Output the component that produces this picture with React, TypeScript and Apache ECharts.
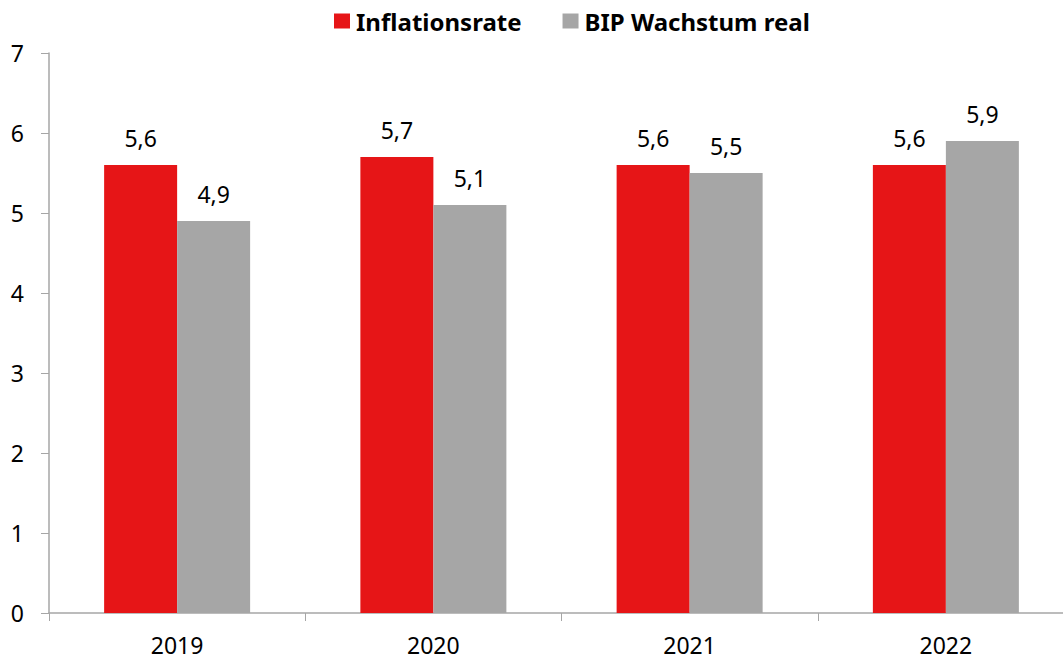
import React, { useEffect, useRef } from "react";
import * as echarts from "echarts";

const categories = ["2019", "2020", "2021", "2022"];
const inflation = [5.6, 5.7, 5.6, 5.6];
const gdp = [4.9, 5.1, 5.5, 5.9];
const seriesNames = ["Inflationsrate", "BIP Wachstum real"];

const FONT = "'Noto Sans', 'Open Sans', sans-serif";

export default function App() {
  const ref = useRef<HTMLDivElement>(null);
  useEffect(() => {
    if (!ref.current) return;
    const chart = echarts.init(ref.current, null, { renderer: "svg" });
    const label = {
      show: true,
      position: "top" as const,
      distance: 16,
      fontSize: 23,
      fontFamily: FONT,
      color: "#000",
      formatter: (p: any) => String(p.value).replace(".", ","),
    };
    chart.setOption({
      animation: false,
      backgroundColor: "#fff",
      legend: {
        top: 9,
        left: 334,
        padding: 0,
        icon: "rect",
        itemWidth: 16,
        itemHeight: 15,
        itemGap: 41,
        textStyle: {
          fontSize: 24,
          fontWeight: "bold",
          fontFamily: FONT,
          color: "#000",
          padding: [0, 0, 0, 1],
        },
        data: seriesNames,
      },
      grid: { left: 49, right: 0, top: 53, bottom: 48, containLabel: false },
      xAxis: {
        type: "category",
        data: categories,
        axisLine: { lineStyle: { color: "#A6A6A6", width: 1.5 } },
        axisTick: { show: true, length: 8, alignWithLabel: false, lineStyle: { color: "#A6A6A6" } },
        axisLabel: { fontSize: 23, fontFamily: FONT, color: "#000", margin: 20 },
      },
      yAxis: {
        type: "value",
        min: 0,
        max: 7,
        interval: 1,
        splitLine: { show: false },
        axisLine: { show: true, lineStyle: { color: "#A6A6A6", width: 1.5 } },
        axisTick: { show: true, length: 8, lineStyle: { color: "#A6A6A6" } },
        axisLabel: { fontSize: 23, fontFamily: FONT, color: "#000", margin: 25 },
      },
      series: [
        {
          name: seriesNames[0],
          type: "bar",
          data: inflation,
          barWidth: 73,
          barGap: "0%",
          itemStyle: { color: "#E61517" },
          label,
        },
        {
          name: seriesNames[1],
          type: "bar",
          data: gdp,
          barWidth: 73,
          barGap: "0%",
          itemStyle: { color: "#A6A6A6" },
          label,
        },
      ],
    });
    return () => chart.dispose();
  }, []);
  return (
    <div
      ref={ref}
      style={{ position: "fixed", left: 0, top: 0, width: 1074, height: 661, overflow: "hidden" }}
    />
  );
}
